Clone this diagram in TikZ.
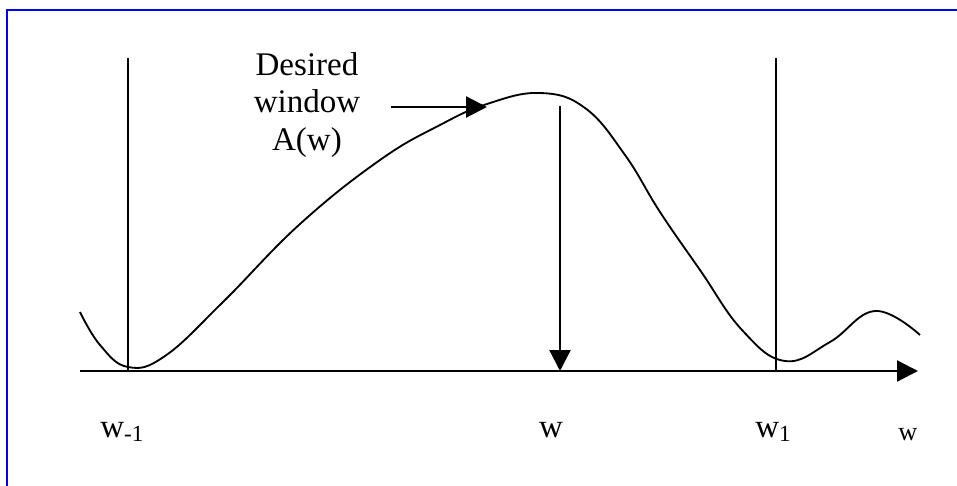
\documentclass[tikz,border=0pt]{standalone}
\usepackage{fontspec}
\setmainfont{Liberation Serif}
\usetikzlibrary{arrows.meta}

\begin{document}
\begin{tikzpicture}[
        x=0.02cm, y=-0.02cm,
        font=\fontsize{18.8}{21.4}\selectfont,
        linie/.style={line width=1.25pt},
        pfeil/.style={line width=1.25pt, -{Triangle[length=0.42cm, width=0.42cm]}},
        kurve/.style={line width=1.05pt},
        marke/.style={inner sep=0pt, anchor=base west}
    ]
    \useasboundingbox (0,0) rectangle (957,486);
    % Rahmen
    \draw[blue, line width=1.3pt] (7,486) -- (7,10) -- (957,10);
    % Achse
    \coordinate (achse0) at (80,371);
    \coordinate (achse1) at (918,371);
    \draw[pfeil] (achse0) -- (achse1);
    % Fenstergrenzen
    \coordinate (links0) at (128,58);
    \coordinate (links1) at (128,371);
    \coordinate (rechts0) at (776,58);
    \coordinate (rechts1) at (776,371);
    \draw[linie] (links0) -- (links1);
    \draw[linie] (rechts0) -- (rechts1);
    % Mitte
    \coordinate (mitte0) at (560,106);
    \coordinate (mitte1) at (560,371);
    \draw[pfeil] (mitte0) -- (mitte1);
    % Fensterfunktion
    \draw[kurve] plot[smooth, tension=0.7] coordinates {
        (80,312) (100,345) (128,367) (165,356) (223,302) (300,224)
        (380,160) (440,125) (487,104) (540,93) (585,108) (625,155)
        (660,212) (700,270) (742,330) (785,361) (830,342)
        (875,311) (920,335)};
    % Beschriftungen
    \node[inner sep=0pt, align=center, anchor=north] (gewuenscht) at (307,52)
        {Desired\\window\\A(w)};
    \coordinate (hinweis0) at (391,107);
    \coordinate (hinweis1) at (487,107);
    \draw[pfeil] (hinweis0) -- (hinweis1);
    \node[marke] (wminus) at (100,437) {w\textsubscript{-1}};
    \node[inner sep=0pt, anchor=base] (wmitte) at (551,437) {w};
    \node[marke] (weins) at (755,437) {w\textsubscript{1}};
    \node[inner sep=0pt, anchor=base, font=\fontsize{15}{17}\selectfont] (wachse) at (908,440) {w};
\end{tikzpicture}
\end{document}
